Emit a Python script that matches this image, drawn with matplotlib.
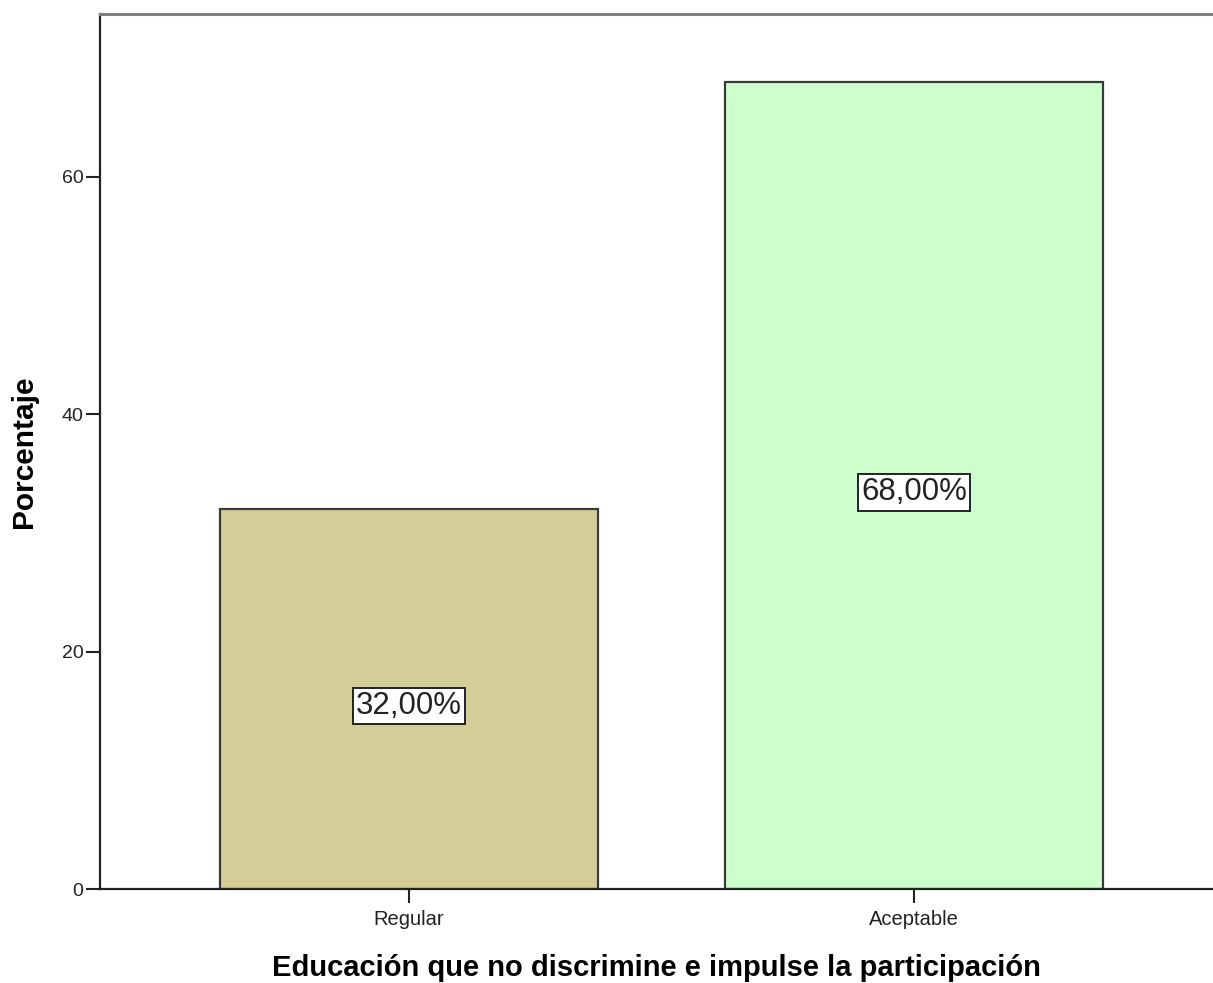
import matplotlib
matplotlib.use("Agg")
import matplotlib.pyplot as plt

categories = ["Regular", "Aceptable"]
percentages = [32.0, 68.0]
bar_colors = ["#D3CE97", "#CCFFCC"]
yticks = [0, 20, 40, 60]

plt.rcParams['font.family'] = ['Liberation Sans', 'DejaVu Sans']

W, H = 1213, 983
fig = plt.figure(figsize=(W/100, H/100), dpi=100)
ax = fig.add_axes([100/W, 1-889/H, 1-100/W, (889-14)/H])

x = list(range(len(categories)))
ax.bar(x, percentages, width=0.749, color=bar_colors, edgecolor="#3a3a3a", linewidth=1.6, zorder=2)

for xi, v in zip(x, percentages):
    ax.annotate(f"{v:.2f}%".replace(".", ","), xy=(xi, v/2), xytext=(0, -5),
                textcoords="offset points", ha="center", va="center", fontsize=22.5,
                color="#222222",
                bbox=dict(boxstyle="square,pad=0.1", facecolor="white", edgecolor="#222222", linewidth=1.4),
                zorder=3)

ax.set_xlim(-0.612, 1.592)
ax.set_ylim(0, 73.73)
ax.set_xticks(x)
ax.set_xticklabels(categories, fontsize=14.5)
ax.set_yticks(yticks)
ax.set_yticklabels([str(t) for t in yticks], fontsize=14)
ax.tick_params(axis="y", direction="out", length=10, width=1.5, pad=2, colors="#222222")
ax.tick_params(axis="x", direction="out", length=10, width=1.5, pad=5, colors="#222222")

ax.spines["right"].set_visible(False)
ax.spines["top"].set_color("#808080")
ax.spines["top"].set_linewidth(2.2)
ax.spines["left"].set_color("#222222")
ax.spines["left"].set_linewidth(1.6)
ax.spines["bottom"].set_color("#222222")
ax.spines["bottom"].set_linewidth(1.6)

ax.set_xlabel("Educación que no discrimine e impulse la participación", fontsize=21, fontweight="bold", labelpad=18)
ax.set_ylabel("Porcentaje", fontsize=21.5, fontweight="bold", labelpad=17)

fig.savefig("out.png", dpi=100)
